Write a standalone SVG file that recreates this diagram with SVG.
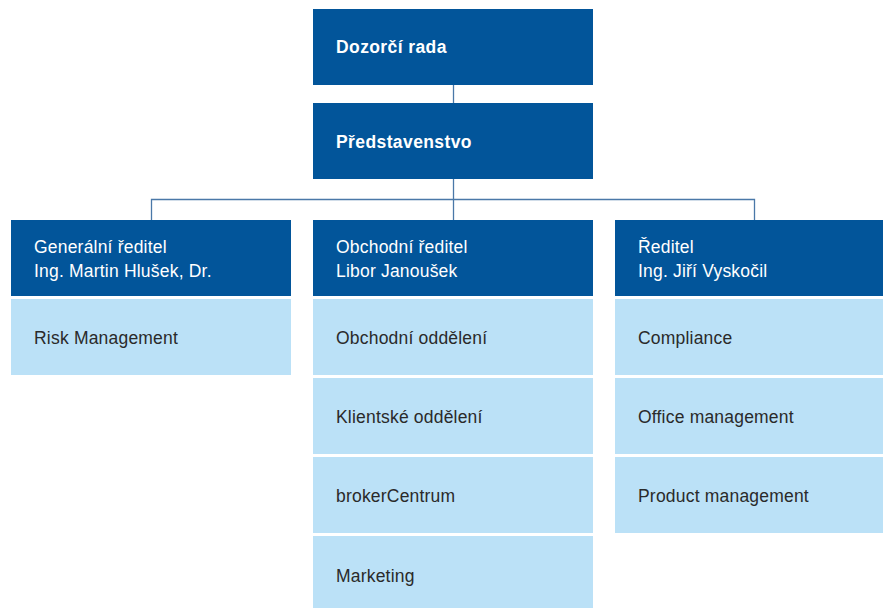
<svg xmlns="http://www.w3.org/2000/svg" width="883" height="608" viewBox="0 0 883 608">
<style>
.dk{fill:#02559a}
.lt{fill:#bbe1f7}
.tb{font-family:"Liberation Sans",Arial,sans-serif;font-size:17.5px;font-weight:bold;letter-spacing:0.4px;fill:#ffffff}
.tw{font-family:"Liberation Sans",Arial,sans-serif;font-size:17.5px;letter-spacing:0.2px;fill:#ffffff}
.td{font-family:"Liberation Sans",Arial,sans-serif;font-size:17.5px;letter-spacing:0.2px;fill:#2a2a2a}
.ln{stroke:#4a78a8;stroke-width:1.3;fill:none}
</style>
<rect width="883" height="608" fill="#ffffff"/>
<g id="connectors">
<line class="ln" x1="453.5" y1="85" x2="453.5" y2="103"/>
<line class="ln" x1="453.5" y1="179" x2="453.5" y2="220"/>
<polyline class="ln" points="151.5,220 151.5,199.5 754.5,199.5 754.5,220"/>
</g>
<g id="dozorci-rada"><rect class="dk" x="313" y="9" width="280" height="76"/><text class="tb" x="336" y="53">Dozorčí rada</text></g>
<g id="predstavenstvo"><rect class="dk" x="313" y="103" width="280" height="76"/><text class="tb" x="336" y="148">Představenstvo</text></g>
<g id="generalni-reditel"><rect class="dk" x="11" y="220" width="280" height="76"/><text class="tw" x="34" y="253">Generální ředitel</text><text class="tw" x="34" y="277">Ing. Martin Hlušek, Dr.</text></g>
<g id="obchodni-reditel"><rect class="dk" x="313" y="220" width="280" height="76"/><text class="tw" x="336" y="253">Obchodní ředitel</text><text class="tw" x="336" y="277">Libor Janoušek</text></g>
<g id="reditel"><rect class="dk" x="615" y="220" width="280" height="76"/><text class="tw" x="638" y="253">Ředitel</text><text class="tw" x="638" y="277">Ing. Jiří Vyskočil</text></g>
<g id="risk-management"><rect class="lt" x="11" y="299" width="280" height="76"/><text class="td" x="34" y="344">Risk Management</text></g>
<g id="obchodni-oddeleni"><rect class="lt" x="313" y="299" width="280" height="76"/><text class="td" x="336" y="344">Obchodní oddělení</text></g>
<g id="klientske-oddeleni"><rect class="lt" x="313" y="378" width="280" height="76"/><text class="td" x="336" y="423">Klientské oddělení</text></g>
<g id="brokercentrum"><rect class="lt" x="313" y="457" width="280" height="76"/><text class="td" x="336" y="502">brokerCentrum</text></g>
<g id="marketing"><rect class="lt" x="313" y="536" width="280" height="76"/><text class="td" x="336" y="582">Marketing</text></g>
<g id="compliance"><rect class="lt" x="615" y="299" width="280" height="76"/><text class="td" x="638" y="344">Compliance</text></g>
<g id="office-management"><rect class="lt" x="615" y="378" width="280" height="76"/><text class="td" x="638" y="423">Office management</text></g>
<g id="product-management"><rect class="lt" x="615" y="457" width="280" height="76"/><text class="td" x="638" y="502">Product management</text></g>
</svg>
